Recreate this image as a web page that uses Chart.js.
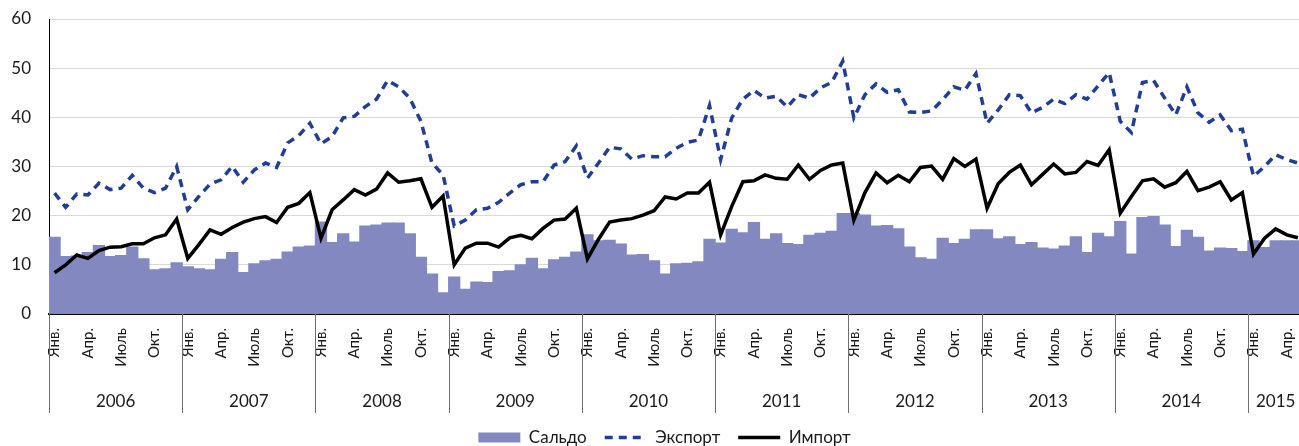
<!DOCTYPE html>
<html>
<head>
<meta charset="utf-8">
<script src="https://cdn.jsdelivr.net/npm/chart.js@4.4.1/dist/chart.umd.min.js"></script>
<style>
  html, body { margin: 0; padding: 0; background: #fff; overflow: hidden; }
  #wrap { width: 1330px; height: 446px; }
</style>
</head>
<body>
<div id="wrap"><canvas id="chart" width="1330" height="446"></canvas></div>
<script>
// years on the lower axis row, and how many months each one has in the chart
const years = [2006, 2007, 2008, 2009, 2010, 2011, 2012, 2013, 2014, 2015];
const monthsPerYear = [12, 12, 12, 12, 12, 12, 12, 12, 12, 5];
// month tick labels (only every third month is labelled)
const monthTicks = ["Янв.", "", "", "Апр.", "", "", "Июль", "", "", "Окт.", "", ""];
const yTicks = [0, 10, 20, 30, 40, 50, 60];

const saldo = [
  15.6, 11.7, 11.8, 12.5, 13.9, 11.7, 11.9, 13.6, 11.2, 9.0, 9.2, 10.4,
  9.6, 9.2, 9.0, 11.1, 12.5, 8.4, 10.2, 10.8, 11.1, 12.6, 13.6, 13.8,
  18.7, 14.5, 16.3, 14.6, 17.9, 18.1, 18.5, 18.5, 16.3, 11.5, 8.1, 4.3,
  7.5, 5.0, 6.5, 6.4, 8.6, 8.8, 10.0, 11.3, 9.2, 11.0, 11.5, 12.6,
  16.1, 14.9, 15.0, 14.2, 12.0, 12.1, 10.8, 8.1, 10.2, 10.3, 10.6, 15.2,
  14.4, 17.2, 16.5, 18.6, 15.2, 16.3, 14.3, 14.1, 16.0, 16.4, 16.8, 20.4,
  20.4, 20.1, 17.9, 18.0, 17.3, 13.6, 11.4, 11.1, 15.4, 14.3, 15.2, 17.1,
  17.1, 15.3, 15.7, 14.1, 14.5, 13.4, 13.2, 13.8, 15.7, 12.5, 16.4, 15.7,
  18.8, 12.2, 19.6, 19.8, 18.1, 13.7, 17.0, 15.6, 12.8, 13.4, 13.3, 12.7,
  14.9, 13.5, 14.9, 14.9, 14.9
];

const exportVals = [
  24.6, 21.7, 24.4, 24.2, 26.6, 25.3, 25.6, 28.2, 25.6, 24.7, 25.6, 30.0,
  21.2, 23.9, 26.4, 27.3, 30.0, 26.8, 29.3, 30.7, 29.8, 34.8, 36.3, 38.8,
  34.6, 36.1, 39.9, 40.2, 42.2, 43.7, 47.5, 46.2, 43.9, 39.2, 30.7, 28.3,
  17.9, 19.1, 21.2, 21.5, 22.7, 24.6, 26.3, 26.9, 26.9, 30.3, 31.0, 34.2,
  27.6, 30.7, 33.9, 33.6, 31.5, 32.2, 32.0, 32.0, 33.7, 34.9, 35.4, 42.4,
  31.4, 39.9, 43.7, 45.5, 43.9, 44.3, 42.1, 44.6, 43.9, 46.0, 47.1, 51.4,
  39.9, 44.6, 46.8, 45.1, 45.6, 41.1, 41.0, 41.3, 43.6, 46.2, 45.5, 48.9,
  38.8, 41.5, 44.6, 44.4, 40.9, 42.0, 43.7, 42.8, 44.6, 43.7, 46.4, 49.1,
  39.2, 36.9, 47.1, 47.5, 43.9, 40.5, 46.2, 40.9, 39.0, 40.5, 37.3, 37.6,
  28.0, 30.0, 32.4, 31.4, 30.7
];

const importVals = [
  8.4, 10.0, 12.0, 11.3, 12.9, 13.6, 13.7, 14.3, 14.3, 15.5, 16.1, 19.3,
  11.3, 14.1, 17.1, 16.2, 17.6, 18.7, 19.4, 19.8, 18.6, 21.7, 22.5, 24.7,
  15.4, 21.2, 23.2, 25.3, 24.2, 25.4, 28.7, 26.8, 27.1, 27.5, 21.7, 24.0,
  10.0, 13.4, 14.4, 14.4, 13.6, 15.5, 16.0, 15.3, 17.4, 19.1, 19.3, 21.5,
  11.2, 15.2, 18.7, 19.1, 19.4, 20.1, 21.0, 23.8, 23.4, 24.6, 24.6, 26.8,
  16.1, 21.9, 26.9, 27.1, 28.3, 27.6, 27.4, 30.3, 27.4, 29.2, 30.3, 30.7,
  19.1, 24.7, 28.7, 26.7, 28.2, 26.9, 29.8, 30.1, 27.4, 31.6, 30.0, 31.5,
  21.5, 26.5, 28.8, 30.3, 26.3, 28.4, 30.5, 28.5, 28.8, 31.0, 30.2, 33.4,
  20.5, 23.9, 27.1, 27.5, 25.8, 26.7, 29.0, 25.1, 25.8, 26.9, 23.2, 24.7,
  12.2, 15.4, 17.3, 16.1, 15.5
];

const FONT = "Lato, 'Open Sans', sans-serif";
const TEXT = "#1a1a1a";
const PLOT_BOTTOM = 314;
const PAD_BOTTOM = -10;
const LEGEND_SHIFT = 11;
const EXPORT_DASH = [8, 6];

// one category per month, e.g. "2006-1"
const labels = [];
const monthIndex = [];
years.forEach((y, k) => {
  for (let m = 0; m < monthsPerYear[k]; m++) {
    labels.push(y + "-" + (m + 1));
    monthIndex.push(m);
  }
});

// year row under the month labels, with separators between years
const yearAxis = {
  id: "yearAxis",
  afterLayout(chart) {
    // legend sits a little right of the canvas centre, as in the original
    chart.legend.left += LEGEND_SHIFT;
    chart.legend.right += LEGEND_SHIFT;
  },
  afterDraw(chart) {
    const { ctx, chartArea } = chart;
    const xs = chart.scales.x;
    const half = (chartArea.right - chartArea.left) / labels.length / 2;
    ctx.save();
    ctx.strokeStyle = "#6e6e6e";
    ctx.lineWidth = 1;
    ctx.fillStyle = TEXT;
    ctx.font = "17px " + FONT;
    ctx.textAlign = "center";
    ctx.textBaseline = "middle";
    let start = 0;
    years.forEach((yr, k) => {
      const end = start + monthsPerYear[k];
      const x0 = xs.getPixelForValue(start) - half;
      const x1 = xs.getPixelForValue(end - 1) + half;
      ctx.beginPath();
      ctx.moveTo(Math.round(x0) + 0.5, chartArea.bottom);
      ctx.lineTo(Math.round(x0) + 0.5, chartArea.bottom + 99);
      ctx.stroke();
      ctx.fillText(String(yr), (x0 + x1) / 2, chartArea.bottom + 88);
      if (k === years.length - 1) {
        ctx.beginPath();
        ctx.moveTo(Math.round(x1) + 0.5, chartArea.bottom);
        ctx.lineTo(Math.round(x1) + 0.5, chartArea.bottom + 99);
        ctx.stroke();
      }
      start = end;
    });
    ctx.restore();
  }
};

const ctx = document.getElementById("chart").getContext("2d");
new Chart(ctx, {
  type: "bar",
  data: {
    labels: labels,
    datasets: [
      {
        type: "bar",
        label: "Сальдо",
        data: saldo,
        backgroundColor: "#8388c0",
        borderWidth: 0,
        categoryPercentage: 1,
        barPercentage: 1,
        inflateAmount: 0.6,
        order: 3,
      },
      {
        type: "line",
        label: "Экспорт",
        data: exportVals,
        borderColor: "#213d94",
        backgroundColor: "#213d94",
        borderWidth: 3.5,
        borderDash: EXPORT_DASH,
        pointRadius: 0,
        tension: 0,
        order: 2,
      },
      {
        type: "line",
        label: "Импорт",
        data: importVals,
        borderColor: "#000000",
        backgroundColor: "#000000",
        borderWidth: 3.5,
        pointRadius: 0,
        tension: 0,
        order: 1,
      },
    ],
  },
  options: {
    responsive: false,
    animation: false,
    devicePixelRatio: 1,
    layout: { padding: { left: 0, right: 23, top: 19, bottom: PAD_BOTTOM } },
    plugins: {
      tooltip: { enabled: false },
      legend: {
        position: "bottom",
        labels: {
          font: { family: FONT, size: 17 },
          color: TEXT,
          usePointStyle: true,
          pointStyleWidth: 42,
          boxHeight: 10,
          padding: 18,
          sort: (a, b) => a.datasetIndex - b.datasetIndex,
          generateLabels(chart) {
            const items = Chart.defaults.plugins.legend.labels.generateLabels(chart);
            items.forEach((it) => {
              const ds = chart.data.datasets[it.datasetIndex];
              if (it.datasetIndex === 0) {
                it.pointStyle = "rect";
                it.lineWidth = 0;
              } else {
                it.pointStyle = "line";
                it.lineWidth = 3.5;
                it.strokeStyle = ds.borderColor;
                it.lineDash = ds.borderDash || [];
              }
            });
            return items;
          },
        },
      },
    },
    scales: {
      x: {
        offset: true,
        grid: { display: false, drawTicks: false },
        border: { display: true, color: "#000", width: 2 },
        ticks: {
          autoSkip: false,
          minRotation: 90,
          maxRotation: 90,
          padding: 14,
          color: TEXT,
          font: { family: FONT, size: 15 },
          callback: (v, i) => monthTicks[monthIndex[i]],
        },
        afterFit(scale) {
          scale.height = 446 - PAD_BOTTOM - PLOT_BOTTOM - scale.chart.legend.height;
        },
      },
      y: {
        min: 0,
        max: 60,
        afterBuildTicks(scale) {
          scale.ticks = yTicks.map((v) => ({ value: v }));
        },
        grid: { color: "#d9d9d9", drawTicks: true, tickLength: 18, tickColor: "rgba(0,0,0,0)" },
        border: { display: true, color: "#000", width: 1 },
        ticks: {
          padding: 0,
          color: TEXT,
          font: { family: FONT, size: 17 },
        },
        afterFit(scale) {
          scale.width = 49;
        },
      },
    },
  },
  plugins: [yearAxis],
});
</script>
</body>
</html>
